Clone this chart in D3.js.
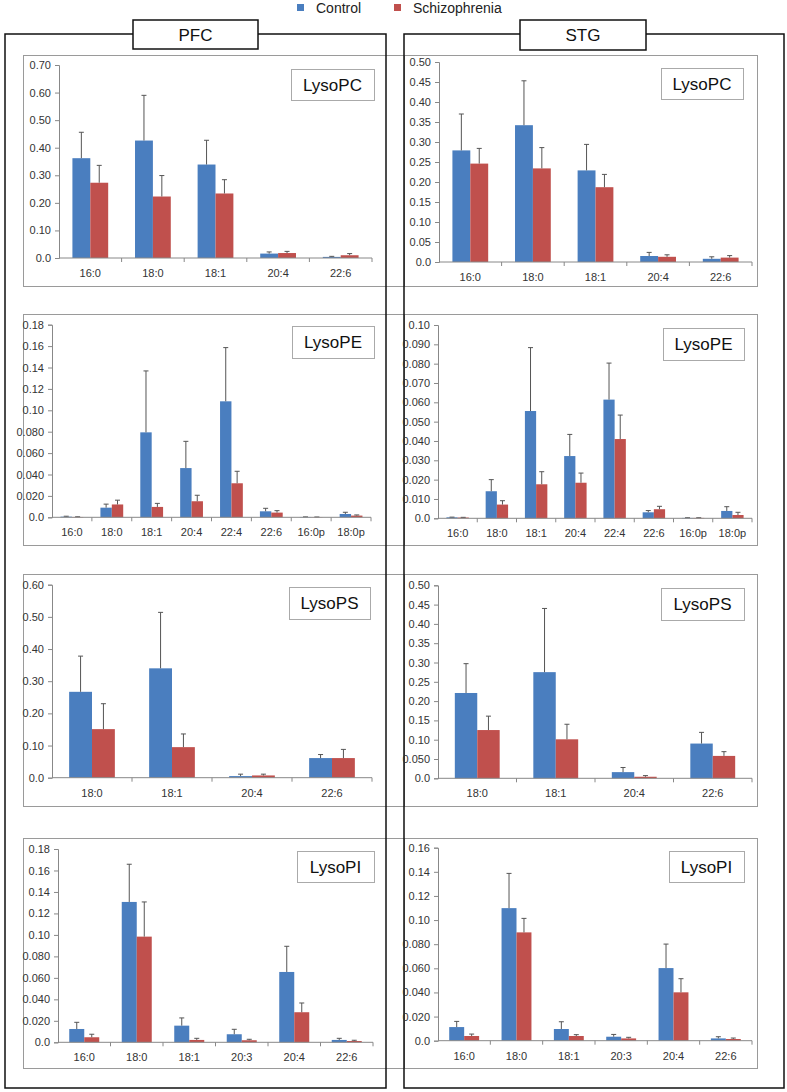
<!DOCTYPE html>
<html>
<head>
<meta charset="utf-8">
<script src="https://cdn.jsdelivr.net/npm/d3@7"></script>
<style>
  body { margin: 0; background: #fff; }
  svg { display: block; font-family: "Liberation Sans", Arial, sans-serif; }
  .tick-y { font-family: "Liberation Sans Narrow", "Liberation Sans", sans-serif; font-size: 11px; fill: #333; }
  .tick-x { font-family: "Liberation Sans Narrow", "Liberation Sans", sans-serif; font-size: 11px; fill: #333; }
</style>
</head>
<body>
<svg width="787" height="1092"></svg>
<script>
// Données
const series = ["Control", "Schizophrenia"];
const seriesColors = ["#4a7ebf", "#c0504d"];

const pcCats = ["16:0", "18:0", "18:1", "20:4", "22:6"];
const peCats = ["16:0", "18:0", "18:1", "20:4", "22:4", "22:6", "16:0p", "18:0p"];
const psCats = ["18:0", "18:1", "20:4", "22:6"];
const piCats = ["16:0", "18:0", "18:1", "20:3", "20:4", "22:6"];

// PFC
const pfcPcControl = [0.362, 0.426, 0.339, 0.016, 0.004];
const pfcPcControlErr = [0.094, 0.164, 0.088, 0.006, 0.002];
const pfcPcSchizo = [0.273, 0.223, 0.234, 0.018, 0.010];
const pfcPcSchizoErr = [0.063, 0.076, 0.050, 0.006, 0.006];

const pfcPeControl = [0.0006, 0.0090, 0.0794, 0.0460, 0.1084, 0.0056, 0.0003, 0.0031];
const pfcPeControlErr = [0.0004, 0.0033, 0.0574, 0.0250, 0.0502, 0.0028, 0.0001, 0.0016];
const pfcPeSchizo = [0.0003, 0.0120, 0.0097, 0.0150, 0.0318, 0.0044, 0.0002, 0.0016];
const pfcPeSchizoErr = [0.0002, 0.0040, 0.0033, 0.0056, 0.0112, 0.0018, 0.0001, 0.0006];

const pfcPsControl = [0.267, 0.340, 0.005, 0.061];
const pfcPsControlErr = [0.111, 0.174, 0.006, 0.011];
const pfcPsSchizo = [0.151, 0.095, 0.007, 0.061];
const pfcPsSchizoErr = [0.079, 0.041, 0.004, 0.027];

const pfcPiControl = [0.0124, 0.1307, 0.0155, 0.0075, 0.0655, 0.0022];
const pfcPiControlErr = [0.0062, 0.0351, 0.0072, 0.0046, 0.0239, 0.0015];
const pfcPiSchizo = [0.0047, 0.0984, 0.0022, 0.0019, 0.0280, 0.0012];
const pfcPiSchizoErr = [0.0028, 0.0323, 0.0015, 0.0009, 0.0086, 0.0007];

// STG
const stgPcControl = [0.279, 0.342, 0.229, 0.015, 0.008];
const stgPcControlErr = [0.091, 0.111, 0.065, 0.009, 0.005];
const stgPcSchizo = [0.246, 0.234, 0.187, 0.013, 0.011];
const stgPcSchizoErr = [0.038, 0.052, 0.032, 0.005, 0.005];

const stgPeControl = [0.0005, 0.0140, 0.0555, 0.0322, 0.0614, 0.0031, 0.0002, 0.0038];
const stgPeControlErr = [0.0001, 0.0060, 0.0328, 0.0112, 0.0189, 0.0009, 0.0001, 0.0022];
const stgPeSchizo = [0.0004, 0.0071, 0.0176, 0.0184, 0.0410, 0.0047, 0.0002, 0.0017];
const stgPeSchizoErr = [0.0001, 0.0020, 0.0065, 0.0050, 0.0124, 0.0015, 0.0001, 0.0014];

const stgPsControl = [0.221, 0.275, 0.016, 0.090];
const stgPsControlErr = [0.076, 0.165, 0.012, 0.029];
const stgPsSchizo = [0.125, 0.101, 0.004, 0.058];
const stgPsSchizoErr = [0.036, 0.039, 0.003, 0.011];

const stgPiControl = [0.0113, 0.1099, 0.0097, 0.0033, 0.0602, 0.0019];
const stgPiControlErr = [0.0047, 0.0288, 0.0060, 0.0019, 0.0199, 0.0014];
const stgPiSchizo = [0.0039, 0.0898, 0.0039, 0.0019, 0.0401, 0.0014];
const stgPiSchizoErr = [0.0016, 0.0116, 0.0011, 0.0009, 0.0113, 0.0008];

// Étiquettes des axes Y
const pfcPcTicks = ["0.70", "0.60", "0.50", "0.40", "0.30", "0.20", "0.10", "0.0"];
const stgPcTicks = ["0.50", "0.45", "0.40", "0.35", "0.30", "0.25", "0.20", "0.15", "0.10", "0.05", "0.0"];
const pfcPeTicks = ["0.18", "0.16", "0.14", "0.12", "0.10", "0.080", "0.060", "0.040", "0.020", "0.0"];
const stgPeTicks = ["0.10", "0.090", "0.080", "0.070", "0.060", "0.050", "0.040", "0.030", "0.020", "0.010", "0.0"];
const pfcPsTicks = ["0.60", "0.50", "0.40", "0.30", "0.20", "0.10", "0.0"];
const stgPsTicks = ["0.50", "0.45", "0.40", "0.35", "0.30", "0.25", "0.20", "0.15", "0.10", "0.050", "0.0"];
const pfcPiTicks = ["0.18", "0.16", "0.14", "0.12", "0.10", "0.080", "0.060", "0.040", "0.020", "0.0"];
const stgPiTicks = ["0.16", "0.14", "0.12", "0.10", "0.080", "0.060", "0.040", "0.020", "0.0"];

// Mise en page des panneaux
const panels = [
  { name: "LysoPC", cats: pcCats, vals: [pfcPcControl, pfcPcSchizo], errs: [pfcPcControlErr, pfcPcSchizoErr], ticks: pfcPcTicks,
    box: [23, 55, 404, 286], ax: [59, 372, 65, 258], leg: [291, 69, 374, 100] },
  { name: "LysoPC", cats: pcCats, vals: [stgPcControl, stgPcSchizo], errs: [stgPcControlErr, stgPcSchizoErr], ticks: stgPcTicks,
    box: [404, 55, 757, 286], ax: [439, 752, 62, 262], leg: [661, 68, 743, 99] },
  { name: "LysoPE", cats: peCats, vals: [pfcPeControl, pfcPeSchizo], errs: [pfcPeControlErr, pfcPeSchizoErr], ticks: pfcPeTicks,
    box: [23, 314, 404, 545], ax: [52, 371, 324.7, 517.3], leg: [292, 326, 374, 358] },
  { name: "LysoPE", cats: peCats, vals: [stgPeControl, stgPeSchizo], errs: [stgPeControlErr, stgPeSchizoErr], ticks: stgPeTicks,
    box: [404, 314, 757, 545], ax: [438, 752, 325, 518.3], leg: [663, 328, 744, 360] },
  { name: "LysoPS", cats: psCats, vals: [pfcPsControl, pfcPsSchizo], errs: [pfcPsControlErr, pfcPsSchizoErr], ticks: pfcPsTicks,
    box: [23, 574, 404, 806], ax: [52, 372, 584.7, 777.7], leg: [289, 587, 370, 619] },
  { name: "LysoPS", cats: psCats, vals: [stgPsControl, stgPsSchizo], errs: [stgPsControlErr, stgPsSchizoErr], ticks: stgPsTicks,
    box: [404, 574, 757, 806], ax: [438, 752, 585.3, 778.3], leg: [661, 588, 744, 620] },
  { name: "LysoPI", cats: piCats, vals: [pfcPiControl, pfcPiSchizo], errs: [pfcPiControlErr, pfcPiSchizoErr], ticks: pfcPiTicks,
    box: [23, 838, 404, 1068], ax: [58, 373, 849, 1042.3], leg: [297, 851, 374, 882] },
  { name: "LysoPI", cats: piCats, vals: [stgPiControl, stgPiSchizo], errs: [stgPiControlErr, stgPiSchizoErr], ticks: stgPiTicks,
    box: [404, 838, 757, 1068], ax: [438, 752, 847.7, 1040.7], leg: [669, 851, 744, 882] }
];

const svg = d3.select("svg");

// Cadres gris des panneaux
panels.forEach(p => {
  svg.append("rect")
    .attr("x", p.box[0] + 0.5).attr("y", p.box[1] + 0.5)
    .attr("width", p.box[2] - p.box[0]).attr("height", p.box[3] - p.box[1])
    .attr("fill", "none").attr("stroke", "#9a9a9a").attr("stroke-width", 1);
});

// Cadres noirs PFC / STG
const regions = [
  { label: "PFC", outer: [5, 34, 386, 1088], head: [133, 20, 258, 49] },
  { label: "STG", outer: [404, 34, 784, 1088], head: [520, 20, 646, 50] }
];
regions.forEach(r => {
  svg.append("rect")
    .attr("x", r.outer[0]).attr("y", r.outer[1])
    .attr("width", r.outer[2] - r.outer[0]).attr("height", r.outer[3] - r.outer[1])
    .attr("fill", "none").attr("stroke", "#111").attr("stroke-width", 1.5);
  svg.append("rect")
    .attr("x", r.head[0]).attr("y", r.head[1])
    .attr("width", r.head[2] - r.head[0]).attr("height", r.head[3] - r.head[1])
    .attr("fill", "#fff").attr("stroke", "#111").attr("stroke-width", 1.5);
  svg.append("text")
    .attr("x", (r.head[0] + r.head[2]) / 2).attr("y", (r.head[1] + r.head[3]) / 2 + 6)
    .attr("text-anchor", "middle").attr("font-size", 17).attr("fill", "#111")
    .text(r.label);
});

// Graphiques
panels.forEach(p => {
  const [x0, x1, yTop, yBot] = p.ax;
  const tickVals = p.ticks.map(t => +t);
  const g = svg.append("g");

  const x = d3.scaleBand().domain(p.cats).range([x0, x1]).padding(0);
  const xs = d3.scaleBand().domain(series).range([0, x.bandwidth()])
    .paddingInner(0).paddingOuter(0.75);
  const y = d3.scaleLinear().domain([0, d3.max(tickVals)]).range([yBot, yTop]);

  // Axe Y
  const yAxis = g.append("g")
    .attr("transform", `translate(${x0},0)`)
    .call(d3.axisLeft(y).tickValues(tickVals).tickSize(4).tickPadding(4)
      .tickFormat((d, i) => p.ticks[i]));
  yAxis.select(".domain").attr("stroke", "#888");
  yAxis.selectAll(".tick line").attr("stroke", "#888");
  yAxis.selectAll("text").attr("class", "tick-y").attr("font-size", null).attr("font-family", null);

  // Barres
  series.forEach((s, si) => {
    g.selectAll(null)
      .data(p.cats.map((c, i) => ({ c, v: p.vals[si][i], e: p.errs[si][i] })))
      .join("rect")
      .attr("x", d => x(d.c) + xs(s))
      .attr("y", d => y(d.v))
      .attr("width", xs.bandwidth())
      .attr("height", d => yBot - y(d.v))
      .attr("fill", seriesColors[si]);
  });

  // Barres d'erreur
  series.forEach((s, si) => {
    const data = p.cats.map((c, i) => ({ c, v: p.vals[si][i], e: p.errs[si][i] }));
    const cx = d => x(d.c) + xs(s) + xs.bandwidth() / 2;
    g.selectAll(null).data(data).join("line")
      .attr("x1", cx).attr("x2", cx)
      .attr("y1", d => y(d.v)).attr("y2", d => y(d.v + d.e))
      .attr("stroke", "#555").attr("stroke-width", 1);
    g.selectAll(null).data(data).join("line")
      .attr("x1", d => cx(d) - 2.5).attr("x2", d => cx(d) + 2.5)
      .attr("y1", d => y(d.v + d.e)).attr("y2", d => y(d.v + d.e))
      .attr("stroke", "#555").attr("stroke-width", 1);
  });

  // Axe X
  g.append("line")
    .attr("x1", x0).attr("x2", x1).attr("y1", yBot).attr("y2", yBot)
    .attr("stroke", "#888");
  g.selectAll(null).data(p.cats.slice(1).concat([null])).join("line")
    .attr("x1", (d, i) => x0 + (i + 1) * x.step())
    .attr("x2", (d, i) => x0 + (i + 1) * x.step())
    .attr("y1", yBot).attr("y2", yBot + 4)
    .attr("stroke", "#888");
  g.selectAll(null).data(p.cats).join("text")
    .attr("class", "tick-x")
    .attr("x", d => x(d) + x.bandwidth() / 2)
    .attr("y", yBot + 19)
    .attr("text-anchor", "middle")
    .text(d => d);

  // Légende du panneau
  const [lx0, ly0, lx1, ly1] = p.leg;
  g.append("rect")
    .attr("x", lx0 + 0.5).attr("y", ly0 + 0.5)
    .attr("width", lx1 - lx0).attr("height", ly1 - ly0)
    .attr("fill", "#fff").attr("stroke", "#aaa");
  g.append("text")
    .attr("x", (lx0 + lx1) / 2).attr("y", (ly0 + ly1) / 2 + 6)
    .attr("text-anchor", "middle").attr("font-size", 17).attr("fill", "#111")
    .text(p.name);
});

// Légende générale
const legend = svg.append("g");
const legendX = [297, 394];
series.forEach((s, i) => {
  legend.append("rect")
    .attr("x", legendX[i]).attr("y", 4).attr("width", 7).attr("height", 7)
    .attr("fill", seriesColors[i]);
  legend.append("text")
    .attr("x", legendX[i] + 19).attr("y", 13)
    .attr("font-size", 14).attr("fill", "#222")
    .text(s);
});
</script>
</body>
</html>
